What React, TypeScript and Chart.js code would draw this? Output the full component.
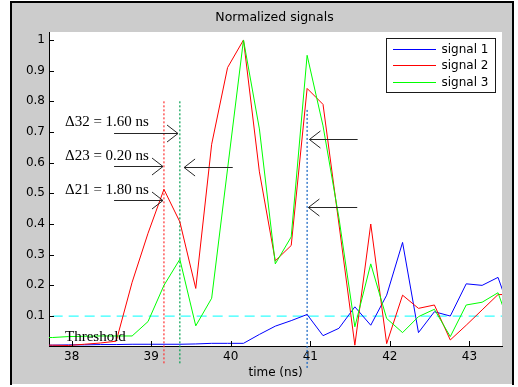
import React, { useEffect, useRef } from 'react';
import { Chart, registerables } from 'chart.js';

Chart.register(...registerables);

// ---- data ----
const times = [37.56, 37.76, 37.96, 38.16, 38.36, 38.56, 38.76, 38.96, 39.16, 39.36, 39.56, 39.76, 39.96, 40.16, 40.36, 40.56, 40.76, 40.96, 41.16, 41.36, 41.56, 41.76, 41.96, 42.16, 42.36, 42.56, 42.76, 42.96, 43.16, 43.36, 43.56];
const signal1 = [0.005, 0.005, 0.006, 0.006, 0.007, 0.007, 0.008, 0.008, 0.008, 0.008, 0.009, 0.011, 0.011, 0.011, 0.04, 0.067, 0.085, 0.105, 0.036, 0.06, 0.13, 0.07, 0.168, 0.34, 0.046, 0.114, 0.1, 0.205, 0.2, 0.226, 0.08];
const signal2 = [0.005, 0.005, 0.004, 0.008, 0.012, 0.018, 0.21, 0.37, 0.513, 0.407, 0.19, 0.66, 0.91, 1.0, 0.57, 0.28, 0.33, 0.842, 0.79, 0.4, 0.005, 0.4, 0.01, 0.168, 0.125, 0.136, 0.022, 0.07, 0.12, 0.17, 0.17];
const signal3 = [0.03, 0.03, 0.033, 0.034, 0.035, 0.035, 0.035, 0.082, 0.2, 0.285, 0.068, 0.158, 0.58, 1.0, 0.71, 0.27, 0.358, 0.95, 0.72, 0.42, 0.065, 0.27, 0.092, 0.046, 0.098, 0.122, 0.033, 0.136, 0.145, 0.176, 0.03];
const seriesNames = ['signal 1', 'signal 2', 'signal 3'];
const seriesColors = ['#0000ff', '#ff0000', '#00ff00'];

const thresholdValue = 0.1;
const thresholdLabel = 'Threshold';

const markerTimes = [39.16, 39.36, 40.96];
const markerTops = [0.8, 0.8, 0.772];
const markerBottoms = [-0.06, -0.06, -0.076];
const markerColors = ['#ff3030', '#00a050', '#1060c0'];

const xTicks = [38, 39, 40, 41, 42, 43];
const xTickLabels = ['38', '39', '40', '41', '42', '43'];
const yTicks = [0.1, 0.2, 0.3, 0.4, 0.5, 0.6, 0.7, 0.8, 0.9, 1];
const yTickLabels = ['0.1', '0.2', '0.3', '0.4', '0.5', '0.6', '0.7', '0.8', '0.9', '1'];

const titleText = 'Normalized signals';
const xAxisLabel = 'time (ns)';

const deltaLabels = ['\u039432 = 1.60 ns', '\u039423 = 0.20 ns', '\u039421 = 1.80 ns'];
const deltaLabelX = 37.916;
const deltaLabelY = [0.72, 0.609, 0.498];

// arrows in data units: [fromX, fromY, toX, toY]
const arrows = [
  [38.533, 0.698, 39.337, 0.698],
  [38.533, 0.589, 39.148, 0.589],
  [38.533, 0.477, 39.148, 0.477],
  [40.025, 0.587, 39.413, 0.587],
  [41.595, 0.676, 40.989, 0.676],
  [41.59, 0.4545, 40.976, 0.4545],
];

const X_MIN = 37.715;
const X_MAX = 43.41;
const Y_MIN = 0.0023;
const Y_MAX = 1.026;

const SANS = '"DejaVu Sans"';
const SERIF = '"Liberation Serif"';

const decorPlugin = {
  id: 'matlabDecor',
  beforeDraw(chart: any) {
    const { ctx, width, height, chartArea: a } = chart;
    ctx.save();
    ctx.fillStyle = '#ffffff';
    ctx.fillRect(0, 0, width, height);
    ctx.fillStyle = '#cccccc';
    ctx.fillRect(12, 3, 500, 381);
    ctx.strokeStyle = '#000000';
    ctx.lineWidth = 2;
    ctx.beginPath();
    ctx.moveTo(11, 385);
    ctx.lineTo(11, 2);
    ctx.lineTo(513, 2);
    ctx.lineTo(513, 385);
    ctx.stroke();
    ctx.fillStyle = '#ffffff';
    ctx.fillRect(a.left, a.top, a.right - a.left, a.bottom - a.top);
    ctx.restore();
  },
  afterDraw(chart: any) {
    const { ctx, chartArea: a } = chart;
    const xs = chart.scales.x;
    const ys = chart.scales.y;
    ctx.save();
    // inward tick marks
    ctx.strokeStyle = '#000000';
    ctx.lineWidth = 1;
    ctx.beginPath();
    xTicks.forEach((v) => {
      const px = Math.round(xs.getPixelForValue(v)) + 0.5;
      ctx.moveTo(px, a.bottom);
      ctx.lineTo(px, a.bottom - 5);
    });
    yTicks.forEach((v) => {
      const py = Math.round(ys.getPixelForValue(v)) + 0.5;
      ctx.moveTo(a.left, py);
      ctx.lineTo(a.left + 5, py);
    });
    ctx.stroke();

    // title
    ctx.fillStyle = '#000000';
    ctx.font = `12.5px ${SANS}`;
    ctx.textAlign = 'center';
    ctx.textBaseline = 'middle';
    ctx.fillText(titleText, (a.left + a.right) / 2 - 1, a.top - 14.5);

    // annotation texts
    ctx.font = `15px ${SERIF}`;
    ctx.textAlign = 'left';
    ctx.textBaseline = 'alphabetic';
    deltaLabels.forEach((t, i) => {
      ctx.fillText(t, xs.getPixelForValue(deltaLabelX), ys.getPixelForValue(deltaLabelY[i]));
    });
    ctx.fillText(thresholdLabel, xs.getPixelForValue(deltaLabelX), ys.getPixelForValue(0.017));

    // arrows
    ctx.strokeStyle = '#262626';
    ctx.lineWidth = 1;
    arrows.forEach(([x0, y0, x1, y1]) => {
      const px0 = xs.getPixelForValue(x0);
      const py0 = Math.round(ys.getPixelForValue(y0)) + 0.5;
      const px1 = xs.getPixelForValue(x1);
      const py1 = Math.round(ys.getPixelForValue(y1)) + 0.5;
      const ang = Math.atan2(py1 - py0, px1 - px0);
      const len = 11;
      const hw = 8.5;
      ctx.beginPath();
      ctx.moveTo(px0, py0);
      ctx.lineTo(px1, py1);
      const bx = px1 - len * Math.cos(ang);
      const by = py1 - len * Math.sin(ang);
      ctx.moveTo(bx - hw * Math.sin(ang), by + hw * Math.cos(ang));
      ctx.lineTo(px1, py1);
      ctx.lineTo(bx + hw * Math.sin(ang), by - hw * Math.cos(ang));
      ctx.stroke();
    });

    // legend
    const lx = a.right - 115.5;
    const ly = a.top + 6.5;
    ctx.fillStyle = '#ffffff';
    ctx.fillRect(lx, ly, 109, 54);
    ctx.strokeStyle = '#1a1a1a';
    ctx.lineWidth = 1;
    ctx.strokeRect(lx, ly, 109, 54);
    ctx.font = `12px ${SANS}`;
    ctx.textBaseline = 'middle';
    seriesNames.forEach((name, i) => {
      const y = Math.round(a.top + 16.5 + i * 16.7) + 0.5;
      ctx.strokeStyle = seriesColors[i];
      ctx.beginPath();
      ctx.moveTo(lx + 6.5, y);
      ctx.lineTo(lx + 49.5, y);
      ctx.stroke();
      ctx.fillStyle = '#000000';
      ctx.fillText(name, lx + 55, y + 0.5);
    });
    ctx.restore();
  },
};

export default function App() {
  const canvasRef = useRef<HTMLCanvasElement | null>(null);

  useEffect(() => {
    const canvas = canvasRef.current;
    if (!canvas) return;

    const signals = [signal1, signal2, signal3];
    const signalSets = signals.map((s, i) => ({
      label: seriesNames[i],
      data: times.map((t, k) => ({ x: t, y: s[k] })),
      borderColor: seriesColors[i],
      borderWidth: 1,
      pointRadius: 0,
      tension: 0,
      fill: false,
      order: 10 - i,
    }));

    const thresholdSet = {
      label: 'threshold',
      data: [
        { x: times[0], y: thresholdValue },
        { x: times[times.length - 1], y: thresholdValue },
      ],
      borderColor: '#33ffff',
      borderWidth: 1.3,
      borderDash: [10, 6],
      pointRadius: 0,
      fill: false,
      order: 11,
    };

    const markerSets = markerTimes.map((t, i) => ({
      label: 'marker' + i,
      data: [
        { x: t, y: markerTops[i] },
        { x: t, y: markerBottoms[i] },
      ],
      borderColor: markerColors[i],
      borderWidth: 1.2,
      borderDash: [2, 2],
      pointRadius: 0,
      fill: false,
      clip: false,
      order: 12,
    }));

    const chart = new Chart(canvas, {
      type: 'line',
      data: { datasets: [...signalSets, thresholdSet, ...markerSets] as any },
      plugins: [decorPlugin],
      options: {
        responsive: false,
        devicePixelRatio: 1,
        animation: false,
        layout: { padding: { top: 32, right: 16, left: 0, bottom: 0 } },
        plugins: {
          legend: { display: false },
          tooltip: { enabled: false },
          title: { display: false },
        },
        scales: {
          x: {
            type: 'linear',
            min: X_MIN,
            max: X_MAX,
            afterFit: (s: any) => { s.height = 41; },
            afterBuildTicks: (s: any) => { s.ticks = xTicks.map((v) => ({ value: v })); },
            grid: { display: false, drawTicks: false },
            border: { display: true, color: '#000000', width: 1 },
            ticks: {
              autoSkip: false,
              maxRotation: 0,
              padding: 4,
              color: '#000000',
              font: { family: 'DejaVu Sans', size: 12 },
              callback: (v: any) => xTickLabels[xTicks.findIndex((t) => Math.abs(t - Number(v)) < 1e-9)],
            },
            title: {
              display: true,
              text: xAxisLabel,
              color: '#000000',
              font: { family: 'DejaVu Sans', size: 12 },
              padding: { top: 0, bottom: 7 },
            },
          },
          y: {
            type: 'linear',
            min: Y_MIN,
            max: Y_MAX,
            afterFit: (s: any) => { s.width = 49; },
            afterBuildTicks: (s: any) => { s.ticks = yTicks.map((v) => ({ value: v })); },
            grid: { display: false, drawTicks: false },
            border: { display: true, color: '#000000', width: 1 },
            ticks: {
              autoSkip: false,
              padding: 4,
              color: '#000000',
              font: { family: 'DejaVu Sans', size: 12 },
              callback: (v: any) => yTickLabels[yTicks.findIndex((t) => Math.abs(t - Number(v)) < 1e-9)],
            },
          },
        },
      },
    });

    return () => chart.destroy();
  }, []);

  return (
    <div style={{ position: 'fixed', left: 0, top: 0, width: 518, height: 387 }}>
      <canvas ref={canvasRef} width={518} height={387} style={{ display: 'block', width: 518, height: 387 }} />
    </div>
  );
}
